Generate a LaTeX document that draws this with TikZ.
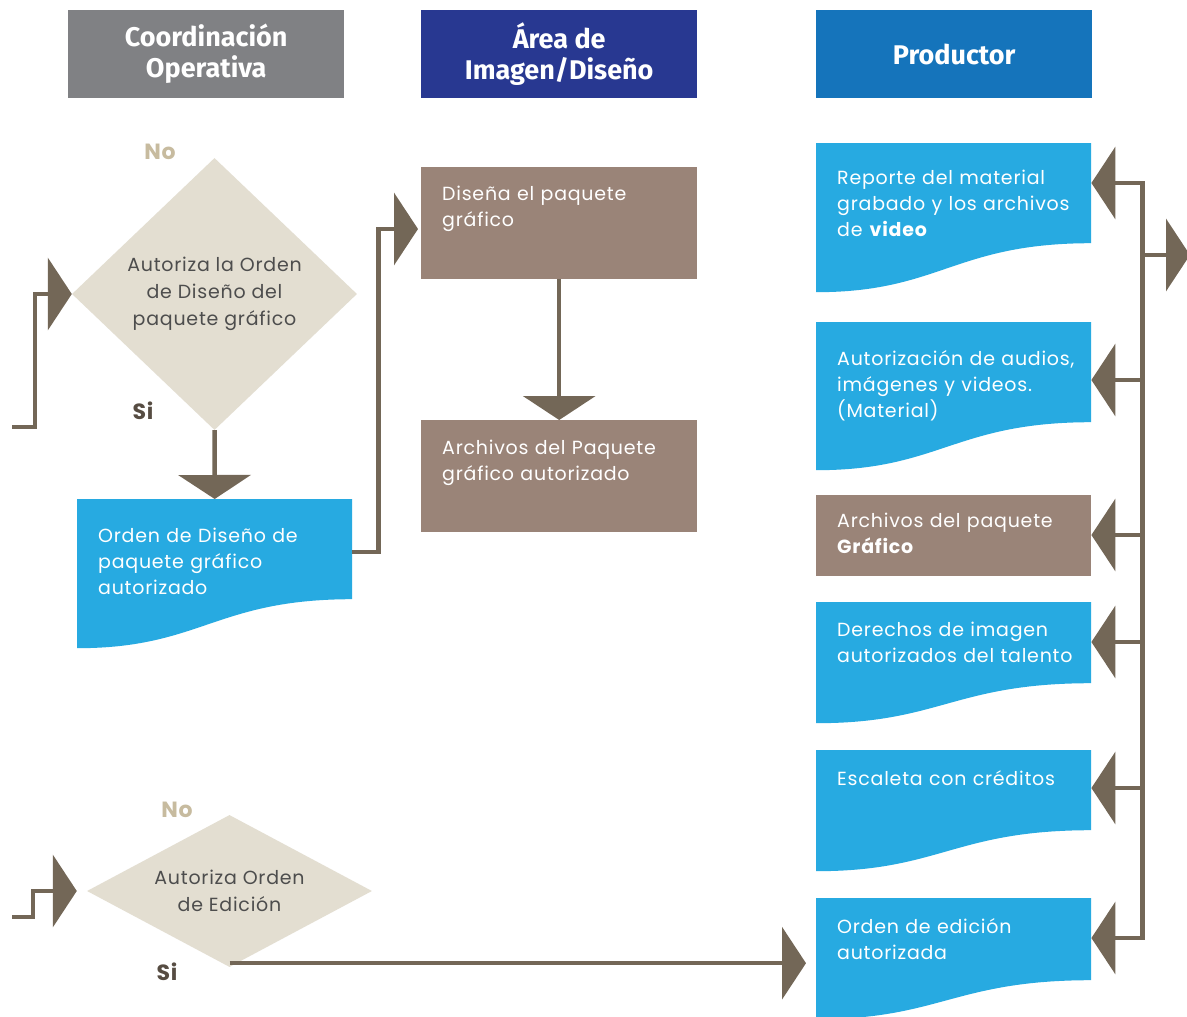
\documentclass[tikz,border=0pt]{standalone}
\usepackage{fontspec}
\setmainfont[LetterSpace=4]{Poppins}
\newfontfamily\headfont{Fira Sans}
\usetikzlibrary{arrows.meta,shapes.geometric}

\definecolor{hgray}{HTML}{808184}
\definecolor{hnavy}{HTML}{283891}
\definecolor{hblue}{HTML}{1574BB}
\definecolor{docblue}{HTML}{27AAE1}
\definecolor{boxbrown}{HTML}{9A8478}
\definecolor{decfill}{HTML}{E3DED1}
\definecolor{linec}{HTML}{736757}
\definecolor{nocol}{HTML}{C7BB9F}
\definecolor{sicol}{HTML}{564C42}
\definecolor{dectext}{HTML}{4D4D4D}

\tikzset{
  head/.style={anchor=north west, minimum width=276, minimum height=88, inner sep=0,
    text=white, align=center, font=\headfont\bfseries\fontsize{27}{31}\selectfont},
  box/.style={anchor=north west, minimum width=276, minimum height=#1, inner sep=0, fill=boxbrown},
  doc/.style 2 args={anchor=north west, minimum width=275, minimum height=#1, inner sep=0,
    path picture={
      \fill[docblue] (path picture bounding box.north west) -- (path picture bounding box.north east)
        -- ([yshift=#2]path picture bounding box.south east)
        .. controls ([xshift=-137, yshift=#2]path picture bounding box.south east)
        and ([xshift=124]path picture bounding box.south west)
        .. (path picture bounding box.south west) -- cycle;}},
  txt/.style={anchor=base west, text width=262, align=left, inner sep=0, xshift=21, yshift=-#1,
    text=white, font=\fontsize{19}{26}\selectfont},
  txt/.default=34,
  dec/.style={diamond, fill=decfill, inner sep=0, minimum width=285, minimum height=#1,
    align=center, text=dectext, font=\fontsize{19}{27}\selectfont},
  nolab/.style={text=nocol, font=\bfseries\fontsize{22}{22}\selectfont},
  silab/.style={text=sicol, font=\bfseries\fontsize{22}{22}\selectfont},
  conn/.style={draw=linec, line width=4.5pt},
  arr/.style={-{Triangle[length=24pt,width=72pt]}},
}

\begin{document}
\begin{tikzpicture}[x=1pt, y=-1pt]
  \fill[white] (0,0) rectangle (1187,1017);
  \useasboundingbox (0,0) rectangle (1187,1017);

  % column headers
  \node[head, fill=hgray] (coo) at (68,10) {Coordinación\\Operativa};
  \node[head, fill=hnavy] (area) at (421,10) {Área de\\Imagen/Diseño};
  \node[head, fill=hblue] (prod) at (816,10) {Productor};

  % coordinacion operativa
  \node[dec=272, aspect=1.05] (dec1) at (214.5,294) {Autoriza la Orden\\de Diseño del\\paquete gráfico};
  \node[nolab] (no1) at (160,152) {No};
  \node[silab] (si1) at (143,411) {Si};
  \node[doc={149}{49}, label={[txt=43]north west:{Orden de Diseño de\\paquete gráfico\\autorizado}}] (odp) at (77,499) {};

  \node[dec=152, aspect=1.87] (dec2) at (229.5,891) {Autoriza Orden\\de Edición};
  \node[nolab] (no2) at (177,810) {No};
  \node[silab] (si2) at (167,972) {Si};

  % area de imagen
  \node[box=112, label={[txt=33]north west:{Diseña el paquete\\gráfico}}] (dis) at (421,167) {};
  \node[box=112, label={[txt]north west:{Archivos del Paquete\\gráfico autorizado}}] (apg) at (421,420) {};

  % productor
  \node[doc={149}{49}, label={[txt=41]north west:{Reporte del material\\grabado y los archivos\\de \textbf{video}}}] (rep) at (816,143) {};
  \node[doc={148}{48}, label={[txt=43]north west:{Autorización de audios,\\imágenes y videos.\\(Material)}}] (aut) at (816,322) {};
  \node[box=81, minimum width=275, label={[txt=32]north west:{Archivos del paquete\\\textbf{Gráfico}}}] (apq) at (816,495) {};
  \node[doc={121}{40}, label={[txt]north west:{Derechos de imagen\\autorizados del talento}}] (der) at (816,602) {};
  \node[doc={121}{41}, label={[txt=35]north west:{Escaleta con créditos}}] (esc) at (816,750) {};
  \node[doc={121}{39}, label={[txt=35]north west:{Orden de edición\\autorizada}}] (ode) at (816,898) {};

  % connectors
  \coordinate (in1) at (12,427);
  \coordinate (in2) at (12,917);
  \coordinate (siE) at ([yshift=4]dec2.south);
  \coordinate (out) at (1190,255);

  \draw[conn, arr] (in1) -- ++(23,0) |- (dec1.west);
  \draw[conn, arr] (dec1.south) -- (odp.north);
  \draw[conn, arr] ([yshift=-53]odp.north east) -- ++(26,0) |- ([xshift=-3, yshift=-62]dis.north west);
  \draw[conn, arr] (dis.south) -- (apg.north);
  \draw[conn, arr, shorten >=10pt] (in2) -- ++(21,0) |- (dec2.west);
  \draw[conn, arr, shorten >=10pt] (siE) -- (siE -| ode.west);

  \draw[conn, line cap=rect] ([xshift=51, yshift=-40]rep.north east) -- ([xshift=51, yshift=-40]ode.north east);
  \foreach \n/\d in {rep/40, aut/58, apq/40, der/40, esc/38, ode/40}
    \draw[conn, arr, line cap=rect] ([xshift=51, yshift=-\d]\n.north east) -- ([yshift=-\d]\n.north east);
  \draw[conn, arr] ([xshift=51, yshift=-112]rep.north east) -- (out);
\end{tikzpicture}
\end{document}
